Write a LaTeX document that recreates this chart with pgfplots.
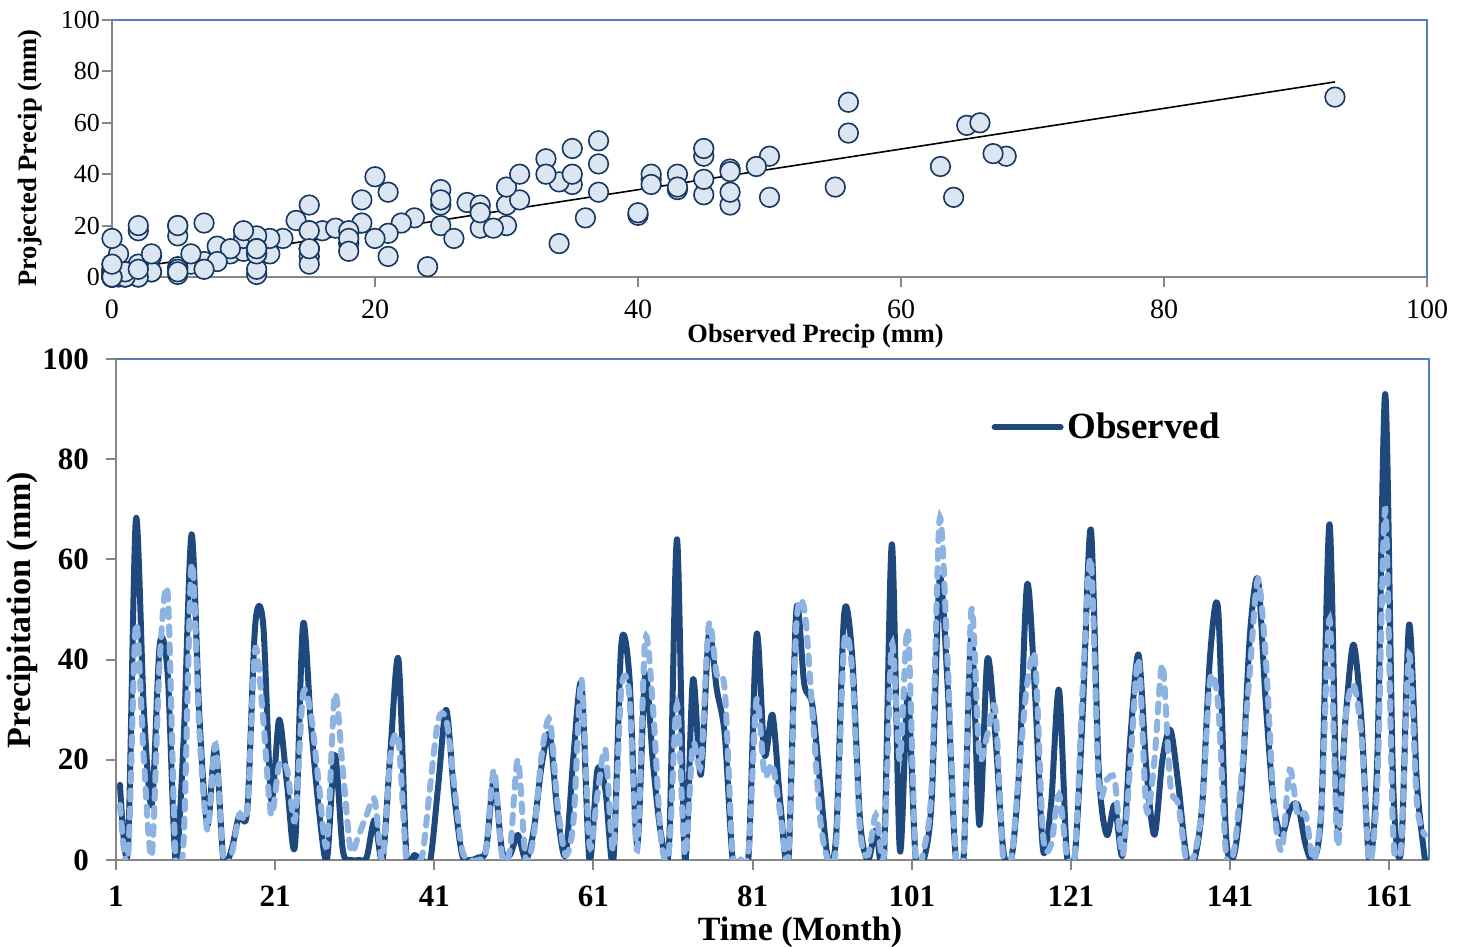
\documentclass[border=0pt]{standalone}
\usepackage{fontspec}
\setmainfont{Liberation Serif}
\usepackage{pgfplots}
\usepackage{pgfplotstable}
\pgfplotsset{compat=1.18}
\definecolor{obs}{HTML}{1F497D}
\definecolor{proj}{HTML}{8DB3E2}
\definecolor{frame}{HTML}{4F81BD}
\definecolor{axgray}{HTML}{868686}
\definecolor{mfill}{HTML}{DCE6F2}
\definecolor{medge}{HTML}{17375E}

\pgfplotstableread{
m obs proj
1 15 11
2 2 0
3 68 47
4 30 20
5 11 1
6 43 40
7 37 53
8 0 0
9 24 4
10 65 59
11 28 25
12 7 6
13 23 23
14 0 0
15 2 1
16 9 9
17 10 10
18 47 42
19 47 28
20 12 9
21 28 19
22 15 18
23 3 8
24 47 33
25 27 29
26 10 15
27 0 3
28 21 33
29 2 18
30 0 2
31 0 5
32 0.5 9
33 8 12
34 0 0
35 22 21
36 40 24
37 1 0
38 1 0
39 0 1
40 0 15
41 15 28
42 30 28
43 13 15
44 1 2
45 0 0
46 0.5 0
47 2 2
48 16 18
49 2 1
50 1 2
51 5 20
52 0 0
53 6 5
54 19 21
55 25 28
56 9 11
57 1 1
58 21 8
59 35 36
60 0 3
61 18 13
62 14 22
63 0 2
64 43 34
65 37 33
66 3 2
67 37 44
68 19 30
69 5 4
70 3 2
71 64 31
72 0 1
73 36 23
74 17 19
75 45 47
76 34 37
77 25 34
78 0 1
79 0 0
80 1 2
81 45 32
82 21 17
83 29 19
84 11 9
85 0 1
86 50 47
87 35 50
88 31 30
89 15 8
90 0 0
91 5 3
92 49 43
93 41 38
94 8 6
95 0 1
96 6 9
97 0 1
98 63 43
99 2 20
100 33 46
101 0 0
102 0 2
103 12 15
104 56 68
105 35 40
106 1 2
107 0 0
108 45 50
109 7 21
110 40 25
111 25 30
112 2 0
113 0 0
114 18 18
115 55 35
116 33 40
117 2 5
118 11 3
119 34 13
120 1 1
121 1 1
122 30 35
123 66 60
124 18 15
125 5 16
126 11 16
127 1 1
128 25 20
129 41 40
130 18 10
131 5 20
132 20 39
133 26 15
134 15 11
135 1 0
136 0 1
137 11 11
138 41 36
139 50 31
140 5 1
141 1 2
142 15 18
143 45 38
144 56 56
145 31 40
146 11 11
147 5 2
148 10 18
149 11 9
150 3 9
151 0 0
152 11 11
153 67 48
154 7 3
155 28 28
156 43 35
157 28 25
158 0 0
159 20 15
160 93 70
161 15 5
162 2 3
163 47 41
164 15 11
165 0 5
}\data

\pgfplotsset{
  mybase/.style={
    scale only axis,
    anchor=south west,
    axis x line*=bottom, axis y line*=left,
    axis line style={axgray, line width=1pt, -},
    tick style={axgray, line width=1pt},
    tick align=outside,
    major tick length=5pt,
    xtick pos=left, ytick pos=left,
    /pgf/number format/assume math mode=true,
    after end axis/.code={\draw[frame, line width=1pt] (rel axis cs:0,1) -- (rel axis cs:1,1) -- (rel axis cs:1,0);},
  }
}

\begin{document}
\begin{tikzpicture}
\path[use as bounding box] (0pt,0pt) rectangle (734pt,473.5pt);

% top scatter
\begin{axis}[mybase,
  at={(56pt,335pt)}, width=657.5pt, height=128.5pt,
  xmin=0, xmax=100, ymin=0, ymax=100,
  xtick={0,20,...,100}, ytick={0,20,...,100},
  xticklabel style={font=\fontsize{14}{14}\selectfont, inner sep=1pt, yshift=-5pt},
  yticklabel style={font=\fontsize{13}{13}\selectfont, xshift=2.5pt},
  xlabel={Observed Precip (mm)},
  ylabel={Projected Precip (mm)},
  xlabel style={font=\bfseries\fontsize{13.2}{14}\selectfont, inner sep=1pt, at={(axis description cs:0.535,0)}, anchor=center, yshift=-29.5pt},
  ylabel style={font=\bfseries\fontsize{13.3}{14}\selectfont, at={(axis description cs:-0.0624,0.463)}, anchor=center},
]
\addplot[only marks, mark=*, mark size=4.9pt, mark options={fill=mfill, draw=medge, line width=0.8pt}] table[x=obs, y=proj] {\data};
\addplot[black, line width=0.8pt] coordinates {(0,2.3) (93,75.9)};
\end{axis}

% bottom time series
\begin{axis}[mybase,
  at={(58pt,43.5pt)}, width=656.5pt, height=250.5pt,
  xmin=0.5, xmax=165.5, ymin=0, ymax=100,
  xtick={0.5,20.5,...,160.5},
  xticklabels={1,21,41,61,81,101,121,141,161},
  ytick={0,20,...,100},
  ticklabel style={font=\bfseries\fontsize{15.5}{16}\selectfont},
  xticklabel style={yshift=-4.5pt},
  yticklabel style={xshift=-5pt},
  xlabel={Time (Month)},
  ylabel={Precipitation (mm)},
  xlabel style={font=\bfseries\fontsize{17}{18}\selectfont, at={(axis description cs:0.521,0)}, anchor=center, yshift=-36pt},
  ylabel style={font=\bfseries\fontsize{17}{18}\selectfont, at={(axis description cs:-0.0716,0.499)}, anchor=center},
  legend style={at={(0.662,0.864)}, anchor=west, draw=none, fill=none, font=\bfseries\fontsize{18.5}{20}\selectfont},
  legend image code/.code={\draw[#1, line cap=round] (0pt,0pt) -- (33pt,0pt);},
]
\addplot[obs, line width=3pt, smooth, line cap=round, line join=round] table[x=m, y=obs] {\data};
\addlegendentry{Observed}
\addplot[proj, line width=3pt, smooth, line cap=round, dash pattern=on 4.5pt off 4.5pt, forget plot] table[x=m, y=proj] {\data};
\end{axis}
\end{tikzpicture}
\end{document}
